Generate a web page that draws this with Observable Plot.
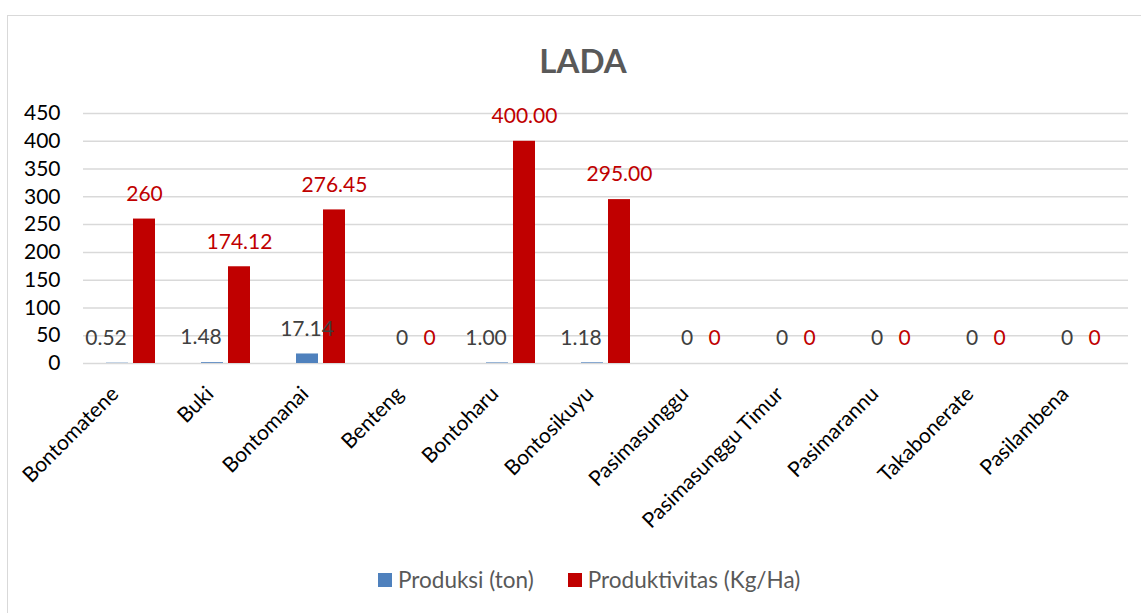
<!DOCTYPE html>
<html>
<head>
<meta charset="utf-8">
<script src="https://cdn.jsdelivr.net/npm/d3@7"></script>
<script src="https://cdn.jsdelivr.net/npm/@observablehq/plot@0.6"></script>
<style>
  html, body { margin: 0; padding: 0; background: #fff; }
  body { width: 1141px; height: 613px; position: relative; overflow: hidden; font-family: Lato, "Noto Sans", sans-serif; }
  #frame { position: absolute; left: 7px; top: 15px; width: 1160px; height: 640px; border: 1px solid #d9d9d9; box-sizing: border-box; }
  #title { position: absolute; left: 0; width: 1166px; top: 40px; text-align: center; font-size: 33px; font-weight: bold; color: #595959; }
  #chart { position: absolute; left: 0; top: 90px; }
  #legend { position: absolute; top: 566px; left: 378px; font-size: 22.5px; color: #595959; display: flex; align-items: center; white-space: nowrap; }
  .sw { display: inline-block; width: 14px; height: 14px; margin-right: 6px; }
</style>
</head>
<body>
<div id="frame"></div>
<div id="title">LADA</div>
<div id="chart"></div>
<div id="legend">
  <span class="sw" style="background:#4F81BD"></span><span>Produksi (ton)</span>
  <span class="sw" style="background:#C00000;margin-left:34px"></span><span>Produktivitas (Kg/Ha)</span>
</div>
<script>
const categories = ["Bontomatene", "Buki", "Bontomanai", "Benteng", "Bontoharu", "Bontosikuyu", "Pasimasunggu", "Pasimasunggu Timur", "Pasimarannu", "Takabonerate", "Pasilambena"];
const produksi = [0.52, 1.48, 17.14, 0, 1.00, 1.18, 0, 0, 0, 0, 0];
const produksiLabels = ["0.52", "1.48", "17.14", "0", "1.00", "1.18", "0", "0", "0", "0", "0"];
const produktivitas = [260, 174.12, 276.45, 0, 400, 295, 0, 0, 0, 0, 0];
const produktivitasLabels = ["260", "174.12", "276.45", "0", "400.00", "295.00", "0", "0", "0", "0", "0"];
const yTicks = [0, 50, 100, 150, 200, 250, 300, 350, 400, 450];

const rows = categories.map((c, i) => ({
  cat: c, prod: produksi[i], prodLabel: produksiLabels[i],
  pv: produktivitas[i], pvLabel: produktivitasLabels[i]
}));

const font = "Lato, 'Noto Sans', sans-serif";
const chart = Plot.plot({
  width: 1141,
  height: 460,
  marginTop: 23,
  marginBottom: 187,
  marginLeft: 83,
  marginRight: 13,
  style: { fontFamily: font, background: "transparent" },
  x: { domain: categories, padding: 0 },
  y: { domain: [0, 450] },
  marks: [
    Plot.gridY(yTicks, { stroke: "#d9d9d9", strokeOpacity: 1, strokeWidth: 1.5 }),
    Plot.axisY(yTicks, { tickSize: 0, tickPadding: 23, fontSize: 21, fill: "#000", label: null }),
    Plot.axisX({ tickSize: 0, tickRotate: -45, fontSize: 21, fill: "#000", label: null, tickPadding: 12, dx: -16, dy: 15 }),
    Plot.barY(rows, { x: "cat", y: "prod", fill: "#4F81BD", insetLeft: 23, insetRight: 50 }),
    Plot.barY(rows, { x: "cat", y: "pv", fill: "#C00000", insetLeft: 50, insetRight: 23 }),
    Plot.text(rows.filter(d => d.prodLabel.length === 4), { x: "cat", y: "prod", text: "prodLabel", dx: -25, dy: -25, fontSize: 21, fill: "#404040" }),
    Plot.text(rows.filter(d => d.prodLabel.length !== 4), { x: "cat", y: "prod", text: "prodLabel", dx: -14, dy: -25, fontSize: 21, fill: "#404040" }),
    Plot.text(rows, { x: "cat", y: "pv", text: "pvLabel", dx: 13.5, dy: -25, fontSize: 21, fill: "#C00000" })
  ]
});
document.getElementById("chart").appendChild(chart);
</script>
</body>
</html>
